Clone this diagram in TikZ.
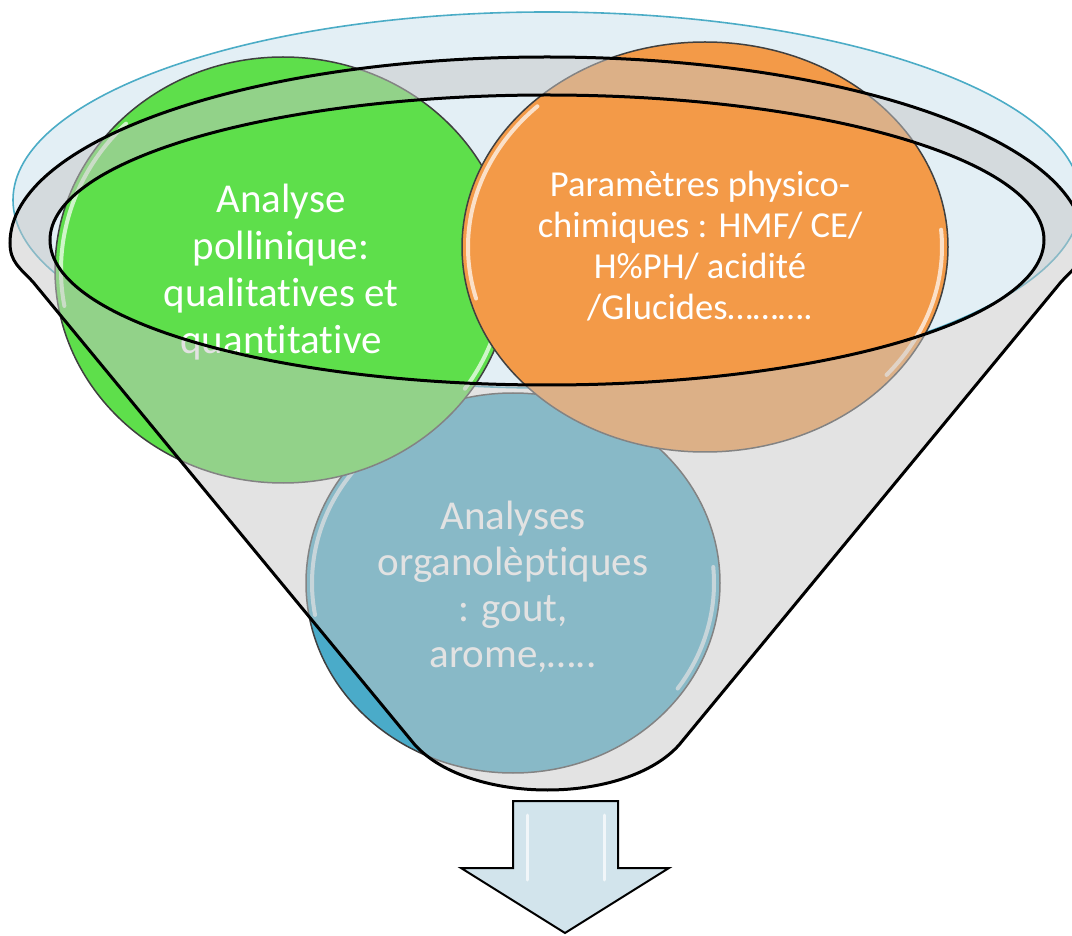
\documentclass[tikz,border=0pt]{standalone}
\usepackage{fontspec}
\setmainfont[Ligatures=NoCommon]{Carlito}
\definecolor{rimblue}{HTML}{4BACC6}
\definecolor{rimfill}{HTML}{E3EFF5}
\definecolor{pollengreen}{HTML}{5EDF4B}
\definecolor{physorange}{HTML}{F39A48}
\definecolor{tasteblue}{HTML}{4AABC9}
\definecolor{arrowfill}{HTML}{D2E4EC}
\tikzstyle{bubble} = [draw=black!75, line width=0.75pt]
\tikzstyle{gloss} = [white, line width=2pt, line cap=round, opacity=0.7]
\tikzstyle{bubbletext} = [text=white, align=center, font=\fontsize{20.5}{23.5}\selectfont]
\tikzstyle{funnel} = [fill=black!22, fill opacity=0.5, even odd rule,
  draw=black, line width=1.5pt]

\begin{document}
\begin{tikzpicture}[x=0.5pt, y=-0.5pt]
  \useasboundingbox (0,0) rectangle (1072,936);

  \coordinate (top) at (547,200);
  \coordinate (rim) at (547,243);
  \coordinate (mouth) at (547,240);
  \coordinate (G) at (283,270);
  \coordinate (O) at (705,247);
  \coordinate (B) at (513,583);

  % Back rim
  \draw[fill=rimfill, draw=rimblue, line width=0.8pt] (top) ellipse [x radius=534, y radius=188];

  % Circles
  \draw[bubble, fill=tasteblue] (B) ellipse [x radius=207, y radius=190];
  \draw[gloss] (B) ++(225:201 and 184) arc [start angle=225, end angle=170, x radius=201, y radius=184];
  \draw[gloss] (B) ++(-5:201 and 184) arc [start angle=-5, end angle=35, x radius=201, y radius=184];
  \node[bubbletext, font=\fontsize{20.5}{23}\selectfont] (taste) at (513,587)
    {Analyses\\organolèptiques\\: gout,\\arome,…..};

  \draw[bubble, fill=pollengreen] (G) ellipse [x radius=228, y radius=213];
  \draw[gloss] (G) ++(225:222 and 207) arc [start angle=225, end angle=170, x radius=222, y radius=207];
  \draw[gloss] (G) ++(-5:222 and 207) arc [start angle=-5, end angle=35, x radius=222, y radius=207];
  \node[bubbletext] (pollen) at (281,272)
    {Analyse\\pollinique:\\qualitatives et\\quantitative};

  \draw[bubble, fill=physorange] (O) ellipse [x radius=243, y radius=205];
  \draw[gloss] (O) ++(225:237 and 199) arc [start angle=225, end angle=165, x radius=237, y radius=199];
  \draw[gloss] (O) ++(-5:237 and 199) arc [start angle=-5, end angle=40, x radius=237, y radius=199];
  \node[bubbletext, font=\fontsize{18.3}{20.5}\selectfont] (physico) at (700,246)
    {Paramètres physico-\\chimiques : HMF/ CE/\\H\%PH/ acidité\\/Glucides……….};

  % Funnel body with its open mouth
  \draw[funnel] (10,243) arc [start angle=180, end angle=360, x radius=537, y radius=186]
    .. controls (1084,262) and (1074,268) .. (1061,282) -- (679,745)
    .. controls (625,805) and (470,805) .. (415,745) -- (33,282)
    .. controls (20,268) and (10,262) .. (10,243) -- cycle
    (mouth) ellipse [x radius=497, y radius=145];

  % Arrow
  \draw[fill=arrowfill, line width=1pt, line join=miter] (513,801) -- (618,801) -- (618,868)
    -- (669,868) -- (565,933) -- (461,868) -- (513,868) -- cycle;
  \draw[gloss, line width=1.5pt] (527,815) -- (527,880);
  \draw[gloss, line width=1.5pt] (604,815) -- (604,880);
\end{tikzpicture}
\end{document}
